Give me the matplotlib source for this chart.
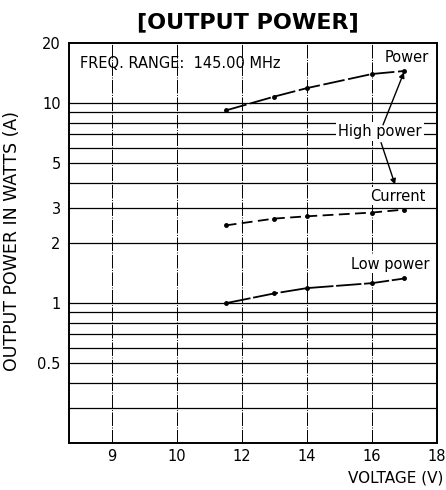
import numpy as np
import matplotlib
matplotlib.use("Agg")
import matplotlib.pyplot as plt

plt.rcParams['font.family'] = ['DejaVu Sans']

voltage = [11.5, 13, 14, 16, 17]
high_power = [9.2, 10.8, 11.9, 14.0, 14.5]
current = [2.45, 2.65, 2.72, 2.84, 2.94]
low_power = [1.0, 1.12, 1.19, 1.26, 1.33]

x_ticks = [9, 10, 12, 14, 16, 18]
y_ticks = [0.5, 1, 2, 3, 5, 10, 20]
y_tick_labels = ['0.5', '1', '2', '3', '5', '10', '20']
h_grid = [0.3, 0.4, 0.5, 0.6, 0.7, 0.8, 0.9, 1, 2, 3, 4, 5, 6, 7, 8, 9, 10]
v_grid = [9, 10, 12, 14, 16]


def fwd(x):
    x = np.asarray(x, dtype=float)
    return np.where(x < 10, 10 + (x - 10) * 2, x)


def inv(u):
    u = np.asarray(u, dtype=float)
    return np.where(u < 10, 10 + (u - 10) / 2, u)


fig = plt.figure(figsize=(4.46, 4.90), dpi=100)
ax = fig.add_axes([0.1547, 0.0959, 0.8251, 0.8163])
ax.set_xscale('function', functions=(fwd, inv))
ax.set_yscale('log')
ax.set_xlim(8.34, 18)
ax.set_ylim(0.2, 20)

for y in h_grid:
    ax.axhline(y, color='black', lw=0.9, zorder=1)
for x in v_grid:
    ax.axvline(x, color='black', lw=0.7, ls=(0, (14, 1.5, 1, 1.5)), zorder=1)

ax.plot(voltage, high_power, color='black', lw=1.3, ls=(0, (12, 2)),
        marker='o', ms=2.5, zorder=3)
ax.plot(voltage, current, color='black', lw=1.3, ls=(0, (6, 3)),
        marker='o', ms=2.5, zorder=3)
ax.plot(voltage, low_power, color='black', lw=1.3, ls=(0, (14, 1.5)),
        marker='o', ms=2.5, zorder=3)

ax.set_xticks(x_ticks)
ax.set_xticklabels([str(v) for v in x_ticks], fontsize=10.5)
ax.set_yticks(y_ticks)
ax.set_yticklabels(y_tick_labels, fontsize=10.5)
ax.yaxis.set_minor_locator(matplotlib.ticker.NullLocator())
ax.xaxis.set_minor_locator(matplotlib.ticker.NullLocator())
ax.tick_params(axis='x', length=0, pad=4)
ax.tick_params(axis='y', length=0, pad=6)
for s in ax.spines.values():
    s.set_linewidth(1.4)

fs = 10.5
ax.text(0.03, 0.95, 'FREQ. RANGE:  145.00 MHz', transform=ax.transAxes,
        fontsize=fs, va='center', ha='left', zorder=4)
ax.text(17.08, 16.9, 'Power', fontsize=fs, ha='center', va='center', zorder=4)
ax.text(16.25, 7.2, 'High power', fontsize=fs, ha='center', va='center', zorder=4,
        bbox=dict(facecolor='white', edgecolor='none', pad=1.5))
ax.text(16.8, 3.42, 'Current', fontsize=fs, ha='center', va='center', zorder=4,
        bbox=dict(facecolor='white', edgecolor='none', pad=1.0))
ax.text(16.55, 1.566, 'Low power', fontsize=fs, ha='center', va='center', zorder=4,
        bbox=dict(facecolor='white', edgecolor='none', pad=1.0))

ax.annotate('', xy=(voltage[-1], high_power[-1]), xytext=(16.34, 7.8),
            arrowprops=dict(arrowstyle='-|>', color='black', lw=1.0,
                            mutation_scale=8, shrinkA=0, shrinkB=1), zorder=5)
ax.annotate('', xy=(16.71, 3.92), xytext=(16.28, 6.35),
            arrowprops=dict(arrowstyle='-|>', color='black', lw=1.0,
                            mutation_scale=8, shrinkA=0, shrinkB=0), zorder=5)

fig.text(0.556, 0.954, '[OUTPUT POWER]', fontsize=16, fontweight='bold',
         ha='center', va='center')
fig.text(0.027, 0.508, 'OUTPUT POWER IN WATTS (A)', fontsize=12.5,
         rotation=90, ha='center', va='center')
fig.text(0.993, 0.0245, 'VOLTAGE (V)', fontsize=11, ha='right', va='center')

fig.savefig('out.png', dpi=100)
